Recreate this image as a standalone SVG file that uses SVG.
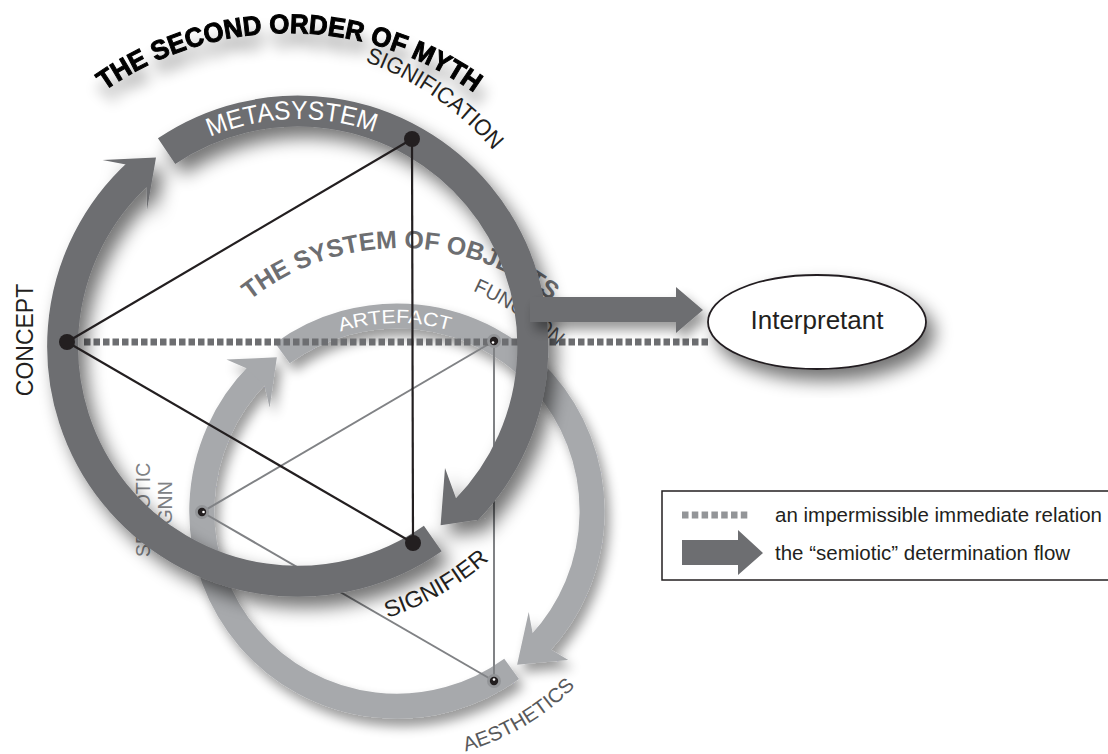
<svg xmlns="http://www.w3.org/2000/svg" width="1108" height="754" viewBox="0 0 1108 754">
<style>
text{font-family:"Liberation Sans",Arial,sans-serif}
.dark{fill:none;stroke:#6d6e71;stroke-width:31}
.darkh{fill:#6d6e71}
.light{fill:none;stroke:#a7a9ac;stroke-width:25}
.lighth{fill:#a7a9ac}
.bl{stroke:#231f20;stroke-width:2.2;fill:none}
.gl{stroke:#808285;stroke-width:2;fill:none}
.dots{stroke:#6d6e71;stroke-width:7;stroke-dasharray:6.5 3;fill:none}
.lbl{fill:#231f20;font-size:23px}
.glbl{fill:#58595b;font-size:20px}
</style>
<defs>
<filter id="sh" x="-30%" y="-30%" width="160%" height="160%">
<feGaussianBlur in="SourceAlpha" stdDeviation="9"/>
<feOffset dx="8" dy="11" result="o"/>
<feComponentTransfer><feFuncA type="linear" slope="0.55"/></feComponentTransfer>
<feMerge><feMergeNode/><feMergeNode in="SourceGraphic"/></feMerge>
</filter>
<filter id="shs" x="-30%" y="-30%" width="160%" height="160%">
<feGaussianBlur in="SourceAlpha" stdDeviation="6"/>
<feOffset dx="5" dy="8" result="o"/>
<feComponentTransfer><feFuncA type="linear" slope="0.4"/></feComponentTransfer>
<feMerge><feMergeNode/><feMergeNode in="SourceGraphic"/></feMerge>
</filter>
<filter id="sht" x="-20%" y="-40%" width="140%" height="200%">
<feGaussianBlur in="SourceAlpha" stdDeviation="7"/>
<feOffset dx="3" dy="14" result="o"/>
<feComponentTransfer><feFuncA type="linear" slope="0.35"/></feComponentTransfer>
<feMerge><feMergeNode/><feMergeNode in="SourceGraphic"/></feMerge>
</filter>
<path id="pTitle" d="M104.5,90.9 A320,320 0 0,1 493.7,107.9"/>
<path id="pMeta" d="M200.2,141.6 A223,223 0 0,1 395.8,141.6"/>
<path id="pSys" d="M244.4,304.6 A242,242 0 0,1 571.1,318.9"/>
<path id="pSignif" d="M349.8,56.4 A307,307 0 0,1 511.5,173.9"/>
<path id="pFunc" d="M460,285.1 A331,331 0 0,1 582,370.5"/>
<path id="pArt" d="M332.7,334.3 A188,188 0 0,1 461.3,334.3"/>
<path id="pSignifier" d="M373.1,622.1 A290,290 0 0,0 520.1,528.4"/>
<path id="pAes" d="M449,755.5 A250,250 0 0,0 588.5,671.7"/>
</defs>
<rect width="1108" height="754" fill="#fff"/>

<g id="title" filter="url(#sht)">
<text font-weight="bold" font-size="27" fill="#000" stroke="#000" stroke-width="1"><textPath href="#pTitle" textLength="394" lengthAdjust="spacingAndGlyphs">THE SECOND ORDER OF MYTH</textPath></text>
</g>

<g id="system-of-objects-title">
<text font-weight="bold" font-size="25" fill="#6d6e71"><textPath href="#pSys" startOffset="7" textLength="325" lengthAdjust="spacingAndGlyphs">THE SYSTEM OF OBJECTS</textPath></text>
</g>

<g id="function-label">
<text class="glbl"><textPath href="#pFunc" startOffset="14" textLength="101" lengthAdjust="spacingAndGlyphs">FUNCTION</textPath></text>
</g>

<g id="semiotic-sign-label">
<text fill="#808285" font-size="19.5" transform="translate(150,557) rotate(-90)">SEMIOTIC</text>
<text fill="#808285" font-size="19.5" transform="translate(172,543) rotate(-90)">SIGNN</text>
</g>

<g id="object-ring" filter="url(#shs)">
<path class="light" d="M511.6,668.8 A195,195 0 0,1 257.9,374.3"/>
<polygon class="lighth" points="276.9,357.3 226.5,359.6 246.5,368.2 264.6,385.4 269.6,407.8"/>
<path class="light" d="M282.4,353.2 A195,195 0 0,1 539.6,644"/>
<polygon class="lighth" points="517.1,664.7 568.3,659.9 551.2,649.8 532.6,633.1 528.7,612.1"/>
</g>

<g id="artefact-label">
<text fill="#fff" font-size="19"><textPath href="#pArt" startOffset="8" textLength="111" lengthAdjust="spacingAndGlyphs">ARTEFACT</textPath></text>
</g>

<g id="connectors">
<g id="object-triangle">
<line class="gl" x1="494" y1="341" x2="202" y2="512"/>
<line class="gl" x1="202" y1="512" x2="494" y2="681"/>
<line class="gl" x1="494" y1="341" x2="494" y2="681"/>
</g>
<line id="impermissible" class="dots" x1="84" y1="342" x2="708" y2="342"/>
</g>

<g id="function">
<circle cx="494" cy="341" r="7" fill="#939598"/><circle cx="494" cy="341" r="4.2" fill="#231f20"/><circle cx="493" cy="342.5" r="1.3" fill="#fff"/>
</g>
<g id="semiotic-sign">
<circle cx="202" cy="512" r="7" fill="#939598"/><circle cx="202" cy="512" r="4.2" fill="#231f20"/><circle cx="203.5" cy="512" r="1.3" fill="#fff"/>
</g>
<g id="aesthetics">
<circle cx="494" cy="681" r="7" fill="#939598"/><circle cx="494" cy="681" r="4.2" fill="#231f20"/><circle cx="494" cy="679.5" r="1.3" fill="#fff"/>
</g>

<g id="myth-ring" filter="url(#sh)">
<path class="dark" d="M432.8,538.5 A235,235 0 0,1 139.2,172.7"/>
<polygon class="darkh" points="156,157.5 102.5,160 125.9,164.6 146.6,186.4 147,210"/>
<path class="dark" d="M166.6,151.2 A235,235 0 0,1 466.2,510.1"/>
<polygon class="darkh" points="440.6,525.2 490,518 477.8,519.7 456.2,498.8 445,468"/>
</g>

<g id="metasystem-label">
<text fill="#fff" font-size="26"><textPath href="#pMeta" startOffset="11" textLength="168" lengthAdjust="spacingAndGlyphs">METASYSTEM</textPath></text>
</g>

<g id="flow-arrow" filter="url(#shs)">
<polygon class="darkh" points="530,297 676,297 676,287 703,310 676,333 676,322 530,322"/>
</g>

<g id="myth-triangle">
<line class="bl" x1="67" y1="342" x2="412" y2="139"/>
<line class="bl" x1="67" y1="342" x2="413" y2="543"/>
<line class="bl" x1="412" y1="139" x2="413" y2="543"/>
</g>

<g id="concept">
<circle cx="67" cy="342" r="8" fill="#231f20"/>
<text class="lbl" font-size="24" text-anchor="middle" transform="translate(33,340) rotate(-90)">CONCEPT</text>
</g>
<g id="signification">
<circle cx="412" cy="139" r="8" fill="#231f20"/>
<text class="lbl" font-size="21"><textPath href="#pSignif" startOffset="16" textLength="158" lengthAdjust="spacingAndGlyphs">SIGNIFICATION</textPath></text>
</g>
<g id="signifier">
<circle cx="413" cy="543" r="8" fill="#231f20"/>
<text class="lbl" font-size="22"><textPath href="#pSignifier" startOffset="15" textLength="118" lengthAdjust="spacingAndGlyphs">SIGNIFIER</textPath></text>
</g>
<g id="aesthetics-label">
<text class="glbl"><textPath href="#pAes" startOffset="17" textLength="129" lengthAdjust="spacingAndGlyphs">AESTHETICS</textPath></text>
</g>

<g id="interpretant" filter="url(#sh)">
<ellipse cx="817" cy="322" rx="109" ry="47" fill="#fff" stroke="#231f20" stroke-width="1.8"/>
</g>
<g id="interpretant-label">
<text x="817" y="329" font-size="26" text-anchor="middle" fill="#231f20">Interpretant</text>
</g>

<g id="legend">
<rect x="662" y="491" width="470" height="89" fill="#fff" stroke="#231f20" stroke-width="1.5"/>
<line x1="682" y1="515" x2="750" y2="515" stroke="#939598" stroke-width="7" stroke-dasharray="6.5 3.3"/>
<text x="775" y="522" font-size="20.5" fill="#231f20">an impermissible immediate relation</text>
<polygon class="darkh" points="682,540 738,540 738,530 763,553 738,575 738,565 682,565"/>
<text x="775" y="560" font-size="20.5" fill="#231f20">the “semiotic” determination flow</text>
</g>
</svg>
